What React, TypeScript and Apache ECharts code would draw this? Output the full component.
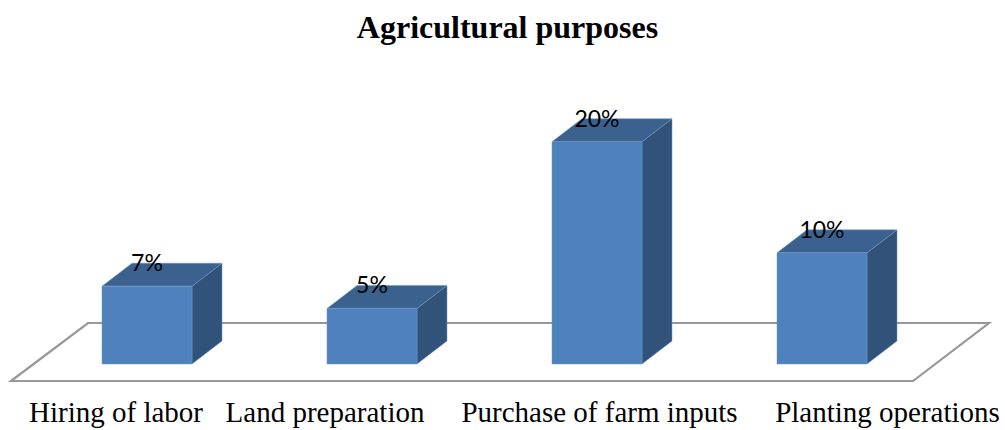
import React, { useEffect, useRef } from "react";
import * as echarts from "echarts";

const title = "Agricultural purposes";
const categories = ["Hiring of labor", "Land preparation", "Purchase of farm inputs", "Planting operations"];
const shares = [7, 5, 20, 10];
const categoryLabelCenters = [116, 325, 599.5, 887.5];

const FRONT = "#4f81bd";
const SIDE = "#31537a";
const TOP = "#3b618f";
const EDGE = "#6f97c9";
const FLOOR_LINE = "#989898";
const DEPTH_X = 30;
const DEPTH_Y = 23;
const BAR_RATIO = 0.4;

// Draws one box: front face, lit top, shaded side, and the value centred on the back top edge.
function renderBox(params: any, api: any) {
  const index = api.value(0);
  const value = api.value(1);
  const [cx, top] = api.coord([index, value]);
  const [, base] = api.coord([index, 0]);
  const half = (api.size([1, 0])[0] * BAR_RATIO) / 2;
  const l = cx - half;
  const r = cx + half;
  const face = (points: number[][], fill: string) => ({
    type: "polygon",
    shape: { points },
    style: { fill, stroke: EDGE, lineWidth: 0.5 },
  });
  return {
    type: "group",
    children: [
      face(
        [[r, top], [r + DEPTH_X, top - DEPTH_Y], [r + DEPTH_X, base - DEPTH_Y], [r, base]],
        SIDE
      ),
      face(
        [[l, top], [l + DEPTH_X, top - DEPTH_Y], [r + DEPTH_X, top - DEPTH_Y], [r, top]],
        TOP
      ),
      face([[l, top], [r, top], [r, base], [l, base]], FRONT),
      {
        type: "text",
        x: cx,
        y: top - DEPTH_Y - 1,
        style: {
          text: `${value}%`,
          fontFamily: "Lato",
          fontSize: 23,
          fill: "#000",
          align: "center",
          verticalAlign: "middle",
        },
      },
    ],
  };
}

export default function App() {
  const ref = useRef<HTMLDivElement>(null);

  useEffect(() => {
    document.body.style.margin = "0";
    const chart = echarts.init(ref.current!, undefined, { renderer: "svg" });
    chart.setOption({
      animation: false,
      backgroundColor: "#ffffff",
      title: {
        text: title,
        left: 502.5,
        top: 6,
        textAlign: "center",
        textStyle: {
          fontFamily: "Liberation Serif",
          fontSize: 32,
          fontWeight: "bold",
          color: "#000",
        },
      },
      grid: { left: 34.5, width: 900, top: 141.7, bottom: 66 },
      xAxis: {
        type: "category",
        data: categories,
        axisLine: { show: false },
        axisTick: { show: false },
        axisLabel: { show: false },
      },
      yAxis: { type: "value", min: 0, max: 20, show: false },
      graphic: [
        {
          type: "polygon",
          shape: { points: [[11, 381], [88, 323], [989, 323], [913, 381]] },
          style: { fill: "#ffffff", stroke: FLOOR_LINE, lineWidth: 2.2 },
        },
        ...categories.map((name, i) => ({
          type: "text",
          x: categoryLabelCenters[i],
          y: 412,
          style: {
            text: name,
            fontFamily: "Liberation Serif",
            fontSize: 29,
            fill: "#000",
            align: "center",
            verticalAlign: "middle",
          },
        })),
      ],
      series: [
        {
          type: "custom",
          renderItem: renderBox,
          clip: false,
          encode: { x: 0, y: 1 },
          data: shares.map((v, i) => [i, v]),
        },
      ],
    });
    return () => chart.dispose();
  }, []);

  return <div ref={ref} style={{ width: 1005, height: 430 }} />;
}
